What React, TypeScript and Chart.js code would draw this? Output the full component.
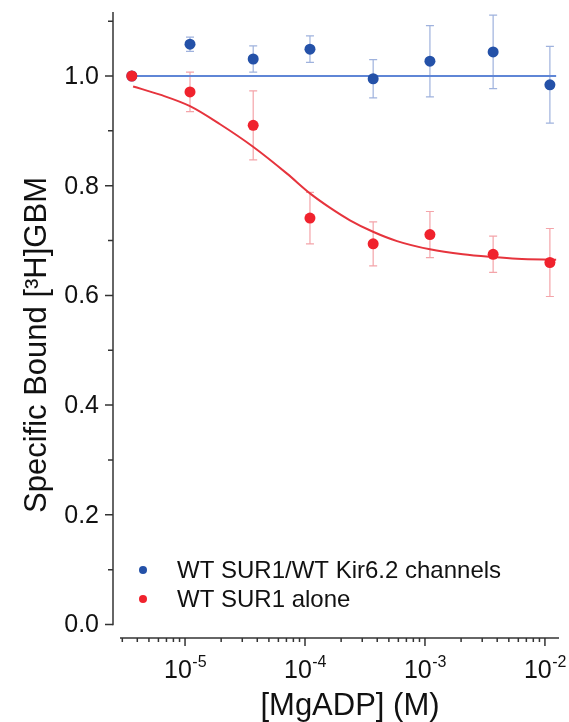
import React, { useEffect, useRef } from 'react';
import { Chart, registerables } from 'chart.js';
Chart.register(...registerables);

// ---- data ----
const concentrations = [3.6e-6, 1.1e-5, 3.7e-5, 1.1e-4, 3.7e-4, 1.1e-3, 3.7e-3, 1.1e-2];
const channelsMean = [1.0, 1.058, 1.031, 1.049, 0.995, 1.027, 1.044, 0.984];
const channelsErr = [0, 0.013, 0.024, 0.024, 0.035, 0.065, 0.067, 0.07];
const aloneMean = [1.0, 0.971, 0.91, 0.741, 0.694, 0.711, 0.675, 0.66];
const aloneErr = [0, 0.036, 0.063, 0.047, 0.04, 0.042, 0.033, 0.062];
const aloneFitX = [3.69e-6, 6.19e-6, 1.1e-5, 1.96e-5, 3.69e-5, 7.08e-5, 1.1e-4, 1.61e-4, 2.37e-4, 3.69e-4, 5.85e-4, 1.1e-3, 2.07e-3, 3.69e-3, 5.85e-3, 1.24e-2];
const aloneFitY = [0.981, 0.966, 0.945, 0.912, 0.871, 0.822, 0.786, 0.76, 0.737, 0.716, 0.699, 0.684, 0.675, 0.67, 0.667, 0.665];
const channelsFitX = [3.35e-6, 1.24e-2];
const channelsFitY = [1.0, 1.0];
const yMajorTicks = [0, 0.2, 0.4, 0.6, 0.8, 1.0];
const yMinorTicks = [0.1, 0.3, 0.5, 0.7, 0.9, 1.1];
const yTickLabels = ['0.0', '0.2', '0.4', '0.6', '0.8', '1.0'];
const xDecades = [-5, -4, -3, -2];
const xDecadeLabels = ['-5', '-4', '-3', '-2'];
const seriesNames = ['WT SUR1/WT Kir6.2 channels', 'WT SUR1 alone'];
const xTitle = '[MgADP] (M)';
const yTitle = 'Specific Bound [\u00B3H]GBM';

const FONT = '"Liberation Sans", Arial, Helvetica, sans-serif';
const BLUE = '#2451a8';
const BLUE_LINE = '#5f86d6';
const BLUE_ERR = '#9fb2dd';
const RED = '#f0222d';
const RED_LINE = '#e6343d';
const RED_ERR = '#f4a4a9';
const AXIS = '#333333';

const errorBarPlugin = {
  id: 'errorBars',
  beforeDatasetsDraw(chart: any) {
    const ctx = chart.ctx;
    const xs = chart.scales.x;
    const ys = chart.scales.y;
    const groups = [
      { mean: channelsMean, err: channelsErr, color: BLUE_ERR },
      { mean: aloneMean, err: aloneErr, color: RED_ERR },
    ];
    ctx.save();
    ctx.lineWidth = 1.2;
    groups.forEach((g) => {
      ctx.strokeStyle = g.color;
      concentrations.forEach((c, i) => {
        if (!g.err[i]) return;
        const px = xs.getPixelForValue(c);
        const top = ys.getPixelForValue(g.mean[i] + g.err[i]);
        const bot = ys.getPixelForValue(g.mean[i] - g.err[i]);
        ctx.beginPath();
        ctx.moveTo(px, top);
        ctx.lineTo(px, bot);
        ctx.moveTo(px - 4, top);
        ctx.lineTo(px + 4, top);
        ctx.moveTo(px - 4, bot);
        ctx.lineTo(px + 4, bot);
        ctx.stroke();
      });
    });
    ctx.restore();
  },
};

const axesPlugin = {
  id: 'originAxes',
  afterDraw(chart: any) {
    const ctx = chart.ctx;
    const xs = chart.scales.x;
    const ys = chart.scales.y;
    const area = chart.chartArea;
    const axisX = area.left - 7;
    ctx.save();
    ctx.strokeStyle = AXIS;
    ctx.fillStyle = '#111';
    ctx.lineWidth = 1.5;

    // y axis
    const y0 = ys.getPixelForValue(0);
    ctx.beginPath();
    ctx.moveTo(axisX, area.top);
    ctx.lineTo(axisX, y0 + 0.75);
    ctx.stroke();
    ctx.beginPath();
    yMajorTicks.forEach((v) => {
      const py = ys.getPixelForValue(v);
      ctx.moveTo(axisX - 8, py);
      ctx.lineTo(axisX, py);
    });
    yMinorTicks.forEach((v) => {
      const py = ys.getPixelForValue(v);
      ctx.moveTo(axisX - 5, py);
      ctx.lineTo(axisX, py);
    });
    ctx.stroke();
    ctx.font = `25px ${FONT}`;
    ctx.textAlign = 'right';
    ctx.textBaseline = 'middle';
    yMajorTicks.forEach((v, i) => {
      ctx.fillText(yTickLabels[i], axisX - 14, ys.getPixelForValue(v) + 1);
    });

    // x axis
    const axisY = area.bottom;
    ctx.beginPath();
    ctx.moveTo(area.left, axisY);
    ctx.lineTo(area.right, axisY);
    ctx.stroke();
    ctx.beginPath();
    for (let d = -6; d <= -2; d++) {
      for (let m = 1; m <= 9; m++) {
        const v = m * Math.pow(10, d);
        if (v < xs.min || v > xs.max) continue;
        const px = xs.getPixelForValue(v);
        ctx.moveTo(px, axisY);
        ctx.lineTo(px, axisY + (m === 1 ? 8 : 4));
      }
    }
    ctx.stroke();
    ctx.textAlign = 'left';
    ctx.textBaseline = 'alphabetic';
    xDecades.forEach((d, i) => {
      const px = xs.getPixelForValue(Math.pow(10, d));
      ctx.font = `25px ${FONT}`;
      const wBase = ctx.measureText('10').width;
      ctx.font = `16px ${FONT}`;
      const wExp = ctx.measureText(xDecadeLabels[i]).width;
      const start = px - (wBase + wExp) / 2;
      ctx.font = `25px ${FONT}`;
      ctx.fillText('10', start, 678);
      ctx.font = `16px ${FONT}`;
      ctx.fillText(xDecadeLabels[i], start + wBase + 0.5, 667);
    });

    // titles
    ctx.font = `31px ${FONT}`;
    ctx.textAlign = 'center';
    ctx.textBaseline = 'alphabetic';
    ctx.fillText(xTitle, 350, 715);
    ctx.save();
    ctx.translate(46, 345);
    ctx.rotate(-Math.PI / 2);
    ctx.fillText(yTitle, 0, 0);
    ctx.restore();

    // legend
    const legendColors = [BLUE, RED];
    const legendY = [570, 599];
    ctx.font = `24px ${FONT}`;
    ctx.textAlign = 'left';
    ctx.textBaseline = 'middle';
    seriesNames.forEach((name, i) => {
      ctx.fillStyle = legendColors[i];
      ctx.beginPath();
      ctx.arc(143, legendY[i], 4, 0, Math.PI * 2);
      ctx.fill();
      ctx.fillStyle = '#111';
      ctx.fillText(name, 177, legendY[i] + 1);
    });
    ctx.restore();
  },
};

export default function App() {
  const ref = useRef<HTMLCanvasElement | null>(null);
  useEffect(() => {
    if (!ref.current) return;
    const toPts = (xs: number[], ys: number[]) => xs.map((x, i) => ({ x, y: ys[i] }));
    const chart = new Chart(ref.current, {
      type: 'scatter',
      data: {
        datasets: [
          {
            label: seriesNames[1],
            data: toPts(concentrations, aloneMean),
            backgroundColor: RED,
            borderColor: RED,
            pointRadius: 5.5,
            pointBorderWidth: 0,
            showLine: false,
            order: 1,
          },
          {
            label: seriesNames[0],
            data: toPts(concentrations, channelsMean),
            backgroundColor: BLUE,
            borderColor: BLUE,
            pointRadius: 5.5,
            pointBorderWidth: 0,
            showLine: false,
            order: 2,
          },
          {
            label: 'fit alone',
            data: toPts(aloneFitX, aloneFitY),
            borderColor: RED_LINE,
            borderWidth: 2,
            pointRadius: 0,
            showLine: true,
            cubicInterpolationMode: 'monotone',
            order: 3,
          },
          {
            label: 'fit channels',
            data: toPts(channelsFitX, channelsFitY),
            borderColor: BLUE_LINE,
            borderWidth: 2,
            pointRadius: 0,
            showLine: true,
            order: 4,
          },
        ],
      },
      options: {
        animation: false,
        responsive: false,
        devicePixelRatio: 1,
        layout: { padding: { left: 120, right: 10, top: 12, bottom: 84 } },
        plugins: { legend: { display: false }, tooltip: { enabled: false } },
        scales: {
          x: { type: 'logarithmic', display: false, min: 2.87e-6, max: 0.0131 },
          y: { type: 'linear', display: false, min: -0.0246, max: 1.1167 },
        },
      },
      plugins: [errorBarPlugin, axesPlugin],
    } as any);
    return () => chart.destroy();
  }, []);
  return (
    <div style={{ position: 'absolute', left: 0, top: 0, width: 569, height: 722, background: '#fff' }}>
      <canvas ref={ref} width={569} height={722} style={{ display: 'block' }} />
    </div>
  );
}
